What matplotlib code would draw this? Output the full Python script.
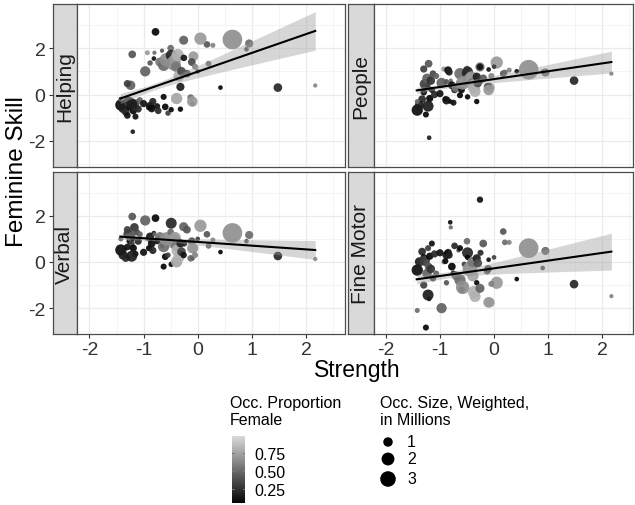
import numpy as np
import matplotlib
matplotlib.use("Agg")
import matplotlib.pyplot as plt
from matplotlib.colors import LinearSegmentedColormap, Normalize

plt.rcParams['font.family'] = ['Liberation Sans', 'DejaVu Sans']
plt.rcParams['axes.unicode_minus'] = False

# one entry per occupation: strength, size (millions), proportion female
strength = [2.17, 1.48, 0.64, 0.42, 0.95, 0.90, 0.28, 0.17, 0.20, 0.05, -0.08, -0.10,
            -1.42, -1.38, -1.33, -1.30, -1.28, -1.26, -1.24, -1.22, -1.21, -1.20, -1.19, -1.17,
            -1.15, -1.13, -1.10, -1.22, -1.42, -1.30,
            -1.07, -1.00, -0.97, -0.93, -0.90, -0.88, -0.88, -0.85, -0.83, -0.81, -0.80, -0.78,
            -0.75, -0.73, -0.70, -0.66, -0.63, -0.63, -0.60, -0.58, -0.55,
            -0.50, -0.49, -0.49, -0.45, -0.42, -0.40, -0.39, -0.37, -0.35, -0.32, -0.32, -0.30,
            -0.26, -0.26, -0.25, -0.20, -0.13, -0.11, -0.10, -0.05, 0.00]
occ_size = [0.05, 0.8, 4.9, 0.1, 0.7, 0.1, 0.15, 0.4, 0.25, 1.8, 1.1, 0.1,
            1.5, 0.9, 0.6, 0.4, 1.2, 0.3, 1.0, 0.3, 0.6, 0.1, 0.5, 0.8,
            0.3, 0.4, 0.5, 1.4, 0.15, 0.5,
            0.3, 0.5, 1.2, 0.15, 0.3, 0.7, 0.2, 0.6, 0.5, 0.1, 0.05, 0.6,
            0.3, 0.4, 0.9, 0.05, 1.5, 0.3, 0.4, 2.2, 0.2,
            0.4, 1.4, 0.2, 2.5, 1.6, 1.2, 1.5, 1.8, 1.4, 0.7, 0.2, 0.8,
            0.9, 0.35, 0.3, 0.6, 0.4, 0.6, 1.3, 0.3, 0.1]
prop_female = [0.60, 0.20, 0.65, 0.05, 0.50, 0.40, 0.60, 0.40, 0.50, 0.70, 0.70, 0.10,
               0.08, 0.15, 0.20, 0.10, 0.30, 0.05, 0.45, 0.30, 0.40, 0.15, 0.05, 0.25,
               0.10, 0.35, 0.20, 0.15, 0.50, 0.30,
               0.45, 0.10, 0.45, 0.70, 0.05, 0.12, 0.40, 0.08, 0.18, 0.10, 0.50, 0.05,
               0.10, 0.20, 0.55, 0.40, 0.50, 0.03, 0.02, 0.65, 0.30,
               0.50, 0.20, 0.02, 0.65, 0.70, 0.55, 0.75, 0.80, 0.80, 0.15, 0.02, 0.35,
               0.45, 0.10, 0.20, 0.40, 0.50, 0.35, 0.70, 0.60, 0.30]
# feminine skill scores, one list per facet
helping = [0.39, 0.30, 2.37, 0.30, 2.20, 1.95, 2.12, 2.16, 1.33, 2.41, 1.65, -0.39,
           -0.45, -0.60, -0.75, -0.90, -0.30, -0.55, 0.40, -0.30, 1.73, -1.60, -0.70, -0.50,
           -0.95, -0.35, -0.62, -0.40, -0.20, 0.47,
           -0.24, -0.39, 1.00, 1.80, -0.55, -0.49, 1.36, -0.60, -0.30, 1.55, 1.80, 2.70,
           -0.50, -0.70, 1.40, 1.89, 1.26, -0.10, -0.53, 1.50, -0.80,
           2.00, 1.69, -0.65, 1.35, 1.50, 1.20, -0.17, 1.70, 0.80, 0.33, -0.63, 1.00,
           2.34, 1.58, 1.58, 0.90, -0.13, 1.40, -0.30, 1.20, 1.00]
people = [0.90, 0.60, 1.07, 1.00, 0.95, 0.98, 1.05, 0.90, 0.95, 1.38, 0.30, 1.08,
          -0.67, -0.45, -0.20, 0.10, 0.45, -0.86, 0.70, 0.30, 1.33, -1.86, -0.17, 0.60,
          0.20, 0.90, 0.00, -0.50, -0.30, 1.10,
          0.80, 0.04, 0.50, 1.10, -0.20, -0.25, 0.55, 1.05, 0.97, -0.30, 0.60, 0.40,
          -0.35, 0.20, 0.30, 0.50, 0.90, -0.03, 0.20, 0.50, 0.90,
          1.10, 0.97, -0.10, 0.60, 0.75, 0.50, 0.40, 0.30, 0.13, 0.77, -0.30, 0.50,
          1.19, 1.19, 0.60, 0.70, 0.34, 0.34, 0.20, 0.80, 1.20]
verbal = [0.13, 0.26, 1.26, 0.43, 1.17, 0.90, 0.95, 1.20, 0.70, 1.57, 0.60, 0.16,
          0.52, 0.30, 0.17, 0.65, 1.20, 0.90, 1.10, 0.80, 1.97, 1.00, 0.60, 1.50,
          0.35, 1.30, 0.90, 0.25, 1.00, 1.40,
          1.20, 0.42, 1.80, 1.00, 0.60, 1.10, 0.95, 0.80, 0.50, 1.25, 1.20, 1.90,
          0.90, 1.00, 1.10, 0.70, 0.67, -0.20, 0.23, 1.00, 0.30,
          1.30, 1.68, -0.10, 0.90, 1.05, 0.70, 0.01, 0.50, 0.20, 0.81, 0.40, 0.45,
          1.53, 0.30, 0.80, 1.40, 0.16, 0.90, 0.60, 0.30, 1.00]
fine_motor = [-1.48, -0.96, 0.60, -0.74, 0.48, -0.26, 0.85, 1.32, 0.85, -0.90, -1.75, 0.10,
              -0.35, 0.01, 0.45, 0.20, 0.05, -2.84, -0.50, 0.60, -0.20, -1.60, 0.25, -0.30,
              0.80, -0.70, 0.35, -1.43, -2.10, -1.00,
              -0.50, 0.40, -2.00, 0.00, 0.04, 0.30, -0.90, 0.40, 0.30, 1.72, 1.50, -0.20,
              -0.50, 0.70, -0.60, 0.50, -0.78, 0.60, -1.20, -1.10, -0.10,
              0.90, 0.40, 0.20, -0.30, -0.20, 0.00, -0.60, -1.30, -1.50, 0.16, -0.90, -0.05,
              -1.14, 2.70, 0.40, 0.80, -0.40, -0.30, -1.75, -0.95, 0.20]

panel_names = ["Helping", "People", "Verbal", "Fine Motor"]
panel_values = [helping, people, verbal, fine_motor]

# lm fit: ends of the line and ribbon half widths
fit_x = [-1.43, 2.17]
fit_left = [-0.17, 0.18, 1.10, -0.75]
fit_right = [2.74, 1.40, 0.52, 0.45]
band_min = [0.14, 0.09, 0.08, 0.13]
band_right = [0.83, 0.47, 0.41, 0.80]
band_center = -0.8

W, H = 635, 506
fig = plt.figure(figsize=(W / 100, H / 100), dpi=100)


def rect(x0, y0, x1, y1):
    return [x0 / W, 1 - y1 / H, (x1 - x0) / W, (y1 - y0) / H]


def dot_area(m):
    d = np.sqrt(14 + 76 * np.asarray(m, dtype=float))
    return (0.72 * d) ** 2


cmap = LinearSegmentedColormap.from_list("fem", ["#050505", "#dadada"])
norm = Normalize(vmin=0.05, vmax=0.98)

cols = [(52.5, 77, 345, (-2.23, 2.72)), (348, 374, 633, (-2.22, 2.57))]
rows = [(5, 168), (173, 335)]
ylim = (-3.12, 3.9)
border = "#4d4d4d"

for i, name in enumerate(panel_names):
    r, c = divmod(i, 2)
    sx0, px0, px1, xlim = cols[c]
    y0, y1 = rows[r]

    sax = fig.add_axes(rect(sx0, y0, px0, y1))
    sax.set_facecolor("#d9d9d9")
    sax.set_xticks([])
    sax.set_ylim(ylim)
    sax.text(0.5, 0.5, name, rotation=90, ha="center", va="center",
             fontsize=15, color="#1a1a1a", transform=sax.transAxes)
    for sp in sax.spines.values():
        sp.set_color(border)
        sp.set_linewidth(0.9)
    if c == 0:
        sax.set_yticks([-2, 0, 2])
        sax.set_yticklabels(["-2", "0", "2"], fontsize=14, color="#333333")
        sax.tick_params(axis="y", length=3, width=0.8, color="#333333", pad=2)
    else:
        sax.set_yticks([])

    ax = fig.add_axes(rect(px0, y0, px1, y1))
    ax.set_xlim(xlim)
    ax.set_ylim(ylim)
    ax.set_xticks([-2, -1, 0, 1, 2])
    ax.set_xticks([-1.5, -0.5, 0.5, 1.5, 2.5], minor=True)
    ax.set_yticks([-2, 0, 2])
    ax.set_yticks([-3, -1, 1, 3], minor=True)
    ax.grid(which="major", color="#ebebeb", linewidth=0.9)
    ax.grid(which="minor", color="#f2f2f2", linewidth=0.6)
    ax.set_axisbelow(True)
    ax.tick_params(axis="y", which="both", left=False, labelleft=False)
    if r == 1:
        ax.set_xticklabels(["-2", "-1", "0", "1", "2"], fontsize=14, color="#333333")
        ax.tick_params(axis="x", which="major", length=3, width=0.8, color="#333333", pad=2)
        ax.tick_params(axis="x", which="minor", length=0)
    else:
        ax.tick_params(axis="x", which="both", bottom=False, labelbottom=False)
    for sp in ax.spines.values():
        sp.set_color(border)
        sp.set_linewidth(0.9)

    ax.scatter(strength, panel_values[i], s=dot_area(occ_size), c=prop_female,
               cmap=cmap, norm=norm, alpha=0.92, linewidths=0, zorder=2)

    xs = np.linspace(fit_x[0], fit_x[1], 100)
    ys = np.interp(xs, fit_x, [fit_left[i], fit_right[i]])
    t = (xs - band_center) / (fit_x[1] - band_center)
    hw = np.sqrt(band_min[i] ** 2 + (band_right[i] ** 2 - band_min[i] ** 2) * t ** 2)
    ax.fill_between(xs, ys - hw, ys + hw, color="#999999", alpha=0.4, linewidth=0, zorder=3)
    ax.plot(xs, ys, color="black", linewidth=1.5, zorder=4)

fig.text(357 / W, 1 - 371 / H, "Strength", ha="center", va="center", fontsize=16.5)
fig.text(17 / W, 1 - 172 / H, "Feminine Skill", ha="center", va="center",
         rotation=90, fontsize=17.5)

# legends
ov = fig.add_axes([0, 0, 1, 1], zorder=-1)
ov.set_xlim(0, W)
ov.set_ylim(H, 0)
ov.axis("off")

ov.text(230, 396, "Occ. Proportion\nFemale", ha="left", va="top", fontsize=11.5,
        linespacing=1.2)
cax = fig.add_axes(rect(232, 437, 245, 504))
grad = np.linspace(norm.vmin, norm.vmax, 256)[:, None]
cax.imshow(grad, aspect="auto", cmap=cmap, norm=norm, origin="lower",
           extent=[0, 1, norm.vmin, norm.vmax])
cax.set_xlim(0, 1)
cax.set_ylim(norm.vmin, norm.vmax)
cax.set_xticks([])
cbar_ticks = [0.25, 0.50, 0.75]
cax.yaxis.tick_right()
cax.set_yticks(cbar_ticks)
cax.set_yticklabels(["0.25", "0.50", "0.75"], fontsize=11.5)
cax.tick_params(axis="y", length=0, pad=7)
for v in cbar_ticks:
    cax.plot([0, 0.18], [v, v], color="#777777", linewidth=0.7)
    cax.plot([0.82, 1], [v, v], color="#777777", linewidth=0.7)
for sp in cax.spines.values():
    sp.set_visible(False)

size_breaks = [1, 2, 3]
size_y = [443, 460, 480]
ov.text(380, 396, "Occ. Size, Weighted,\nin Millions", ha="left", va="top",
        fontsize=11.5, linespacing=1.2)
ov.scatter([388] * 3, size_y, s=dot_area(size_breaks), color="black", linewidths=0)
for b, yy in zip(size_breaks, size_y):
    ov.text(407, yy, str(b), ha="left", va="center", fontsize=11.5)

fig.savefig("out.png", dpi=100)
